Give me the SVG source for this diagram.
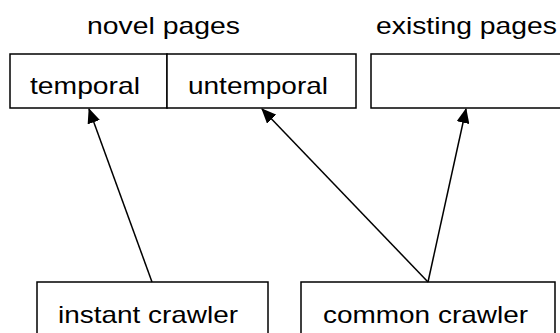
<svg xmlns="http://www.w3.org/2000/svg" width="560" height="333" viewBox="0 0 560 333">
<defs>
<style>
.box{fill:#fff;stroke:#000;stroke-width:1.5}
.t{font-family:"Liberation Sans",Arial,sans-serif;font-size:24px;fill:#000}
.c{stroke:#000;stroke-width:1.5;fill:none;marker-end:url(#ah)}
</style>
<marker id="ah" viewBox="0 0 15 13" refX="14" refY="6.5" markerWidth="15" markerHeight="13" markerUnits="userSpaceOnUse" orient="auto">
<path d="M0,0 L15,6.5 L0,13 z" fill="#000"/>
</marker>
</defs>
<g id="labels">
<text class="t" x="87" y="34" textLength="153" lengthAdjust="spacingAndGlyphs">novel pages</text>
<text class="t" x="376" y="34" textLength="181" lengthAdjust="spacingAndGlyphs">existing pages</text>
</g>
<g id="temporal">
<rect class="box" x="10" y="54" width="157" height="54"/>
<text class="t" x="30" y="94" textLength="110" lengthAdjust="spacingAndGlyphs">temporal</text>
</g>
<g id="untemporal">
<rect class="box" x="167" y="54" width="189" height="54"/>
<text class="t" x="188" y="94" textLength="140" lengthAdjust="spacingAndGlyphs">untemporal</text>
</g>
<g id="existing">
<rect class="box" x="371" y="54" width="200" height="54"/>
</g>
<g id="instant">
<rect class="box" x="37" y="282" width="231" height="60"/>
<text class="t" x="58" y="323" textLength="180" lengthAdjust="spacingAndGlyphs">instant crawler</text>
</g>
<g id="common">
<rect class="box" x="301" y="282" width="254" height="60"/>
<text class="t" x="323" y="323" textLength="205" lengthAdjust="spacingAndGlyphs">common crawler</text>
</g>
<g id="connectors">
<line class="c" x1="152" y1="282" x2="89" y2="109"/>
<line class="c" x1="428" y1="282" x2="262" y2="109"/>
<line class="c" x1="428" y1="282" x2="466" y2="109"/>
</g>
</svg>
